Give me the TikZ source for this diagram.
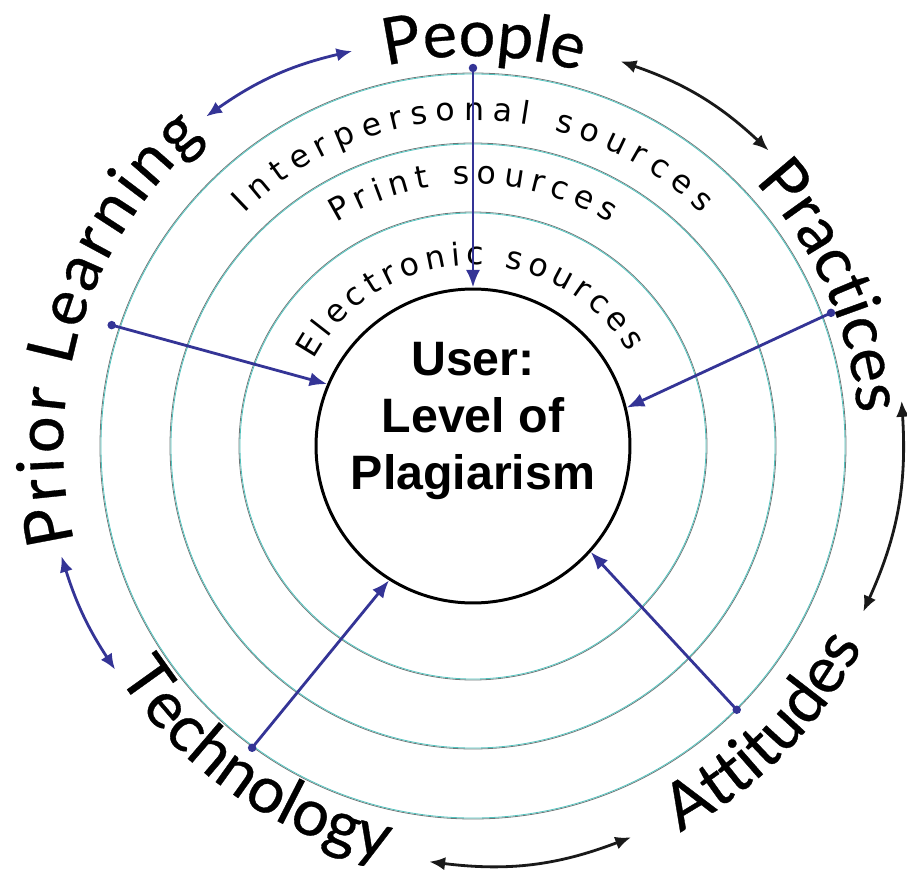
\documentclass[tikz,border=0pt]{standalone}
\usepackage{fontspec}
\setmainfont{Lato}
\newfontfamily\outerfam{Lato}[FakeBold=0.5]
\newfontfamily\ringfam{DejaVu Sans}
\newfontfamily\userfam{Liberation Sans}
\usetikzlibrary{positioning}
\usetikzlibrary{arrows.meta}
\usetikzlibrary{decorations.text}

\definecolor{arrowblue}{RGB}{52,52,150}
\definecolor{linkblack}{RGB}{25,25,25}
\definecolor{ringgray}{RGB}{110,118,118}
\definecolor{ringcyan}{RGB}{80,195,190}

\newcommand{\outerfont}{\outerfam\fontsize{37}{40}\selectfont}
\newcommand{\ringfont}{\ringfam\fontsize{18}{21}\selectfont}

\tikzset{
  ring/.style={ringgray, line width=0.45pt},
  ringtint/.style={ringcyan, line width=0.45pt},
  userring/.style={circle, draw, line width=1.7pt, minimum size=6.28cm, inner sep=0pt},
  dot/.style={circle, fill=arrowblue, inner sep=0pt, minimum size=0.17cm},
  flow/.style={arrowblue, line width=1.6pt, -{Latex[length=10pt,width=8pt]}},
  link/.style={line width=1.6pt, {Latex[length=9pt,width=7.5pt]}-{Latex[length=9pt,width=7.5pt]}},
  curvetext/.style={decorate, decoration={text along path, text align=center, text={|\outerfont|#1}}},
  fittext/.style={decorate, decoration={text along path, text align={fit to path}, text={|\outerfont|#1}}},
  ringtext/.style={decorate, decoration={text along path, text align={fit to path}, text={|\ringfont|#1}}},
}

\begin{document}
\begin{tikzpicture}[x=0.02cm, y=0.02cm]
  % keep the frame of the reference
  \useasboundingbox (-473,-427) rectangle (434,446);

  % rings round the user
  \foreach \r in {234,303,373} {
    \draw[ring] (0,0) circle [radius=\r];
    \draw[ringtint] (0,0) circle [radius=\r-1];
  }
  \node[userring] (user) at (0,0) {};
  \node[font=\userfam\bfseries\fontsize{27.5}{32.3}\selectfont, align=center, inner sep=0pt, anchor=north] (usertxt) at (0,104) {User:\\Level of\\Plagiarism};

  % sources along the rings
  \path[ringtext={Interpersonal sources}] (134.5:326) arc[start angle=134.5, end angle=45.5, radius=326];
  \path[ringtext={Print sources}] (121.5:262) arc[start angle=121.5, end angle=58.5, radius=262];
  \path[ringtext={Electronic sources}] (151.5:181) arc[start angle=151.5, end angle=31, radius=181];

  % the five influences
  \path[curvetext=People] (128.5:390) arc[start angle=128.5, end angle=48.5, radius=390];
  \path[curvetext=Practices] (64:386) arc[start angle=64, end angle=-16, radius=386];
  \path[fittext={Prior Learning}] (193.5:410) arc[start angle=193.5, end angle=131, radius=410];
  \path[curvetext=Technology] (-164.5:423) arc[start angle=-164.5, end angle=-84.5, radius=423];
  \path[curvetext=Attitudes] (-84.5:438) arc[start angle=-84.5, end angle=-4.5, radius=438];

  % dots on the outer ring
  \node[dot] (people) at (90:378) {};
  \node[dot] (prior) at (161.5:381) {};
  \node[dot] (practices) at (20.4:382) {};
  \node[dot] (technology) at (-126.2:374) {};
  \node[dot] (attitudes) at (-45:373) {};

  % arrows into the user
  \draw[flow] (people.center) -- (user.90);
  \draw[flow] (prior.center) -- (user.157);
  \draw[flow] (practices.center) -- (user.14);
  \draw[flow] (technology.center) -- (user.238);
  \draw[flow] (attitudes.center) -- (user.318);

  % ends of the links between influences
  \coordinate (pl1) at (129:424);
  \coordinate (pl2) at (107:413);
  \coordinate (pp1) at (69:412);
  \coordinate (pp2) at (45:418);
  \coordinate (pa1) at (6:431);
  \coordinate (pa2) at (-23:424);
  \coordinate (at1) at (-68:422);
  \coordinate (at2) at (-96:418);
  \coordinate (tp1) at (-148:422);
  \coordinate (tp2) at (-165:426);

  \draw[link, arrowblue] (pl1) to[bend left=11] (pl2);
  \draw[link, linkblack] (pp1) to[bend left=12] (pp2);
  \draw[link, linkblack] (pa1) to[bend left=14] (pa2);
  \draw[link, linkblack] (at1) to[bend left=14] (at2);
  \draw[link, arrowblue] (tp1) to[bend left=8] (tp2);
\end{tikzpicture}
\end{document}
